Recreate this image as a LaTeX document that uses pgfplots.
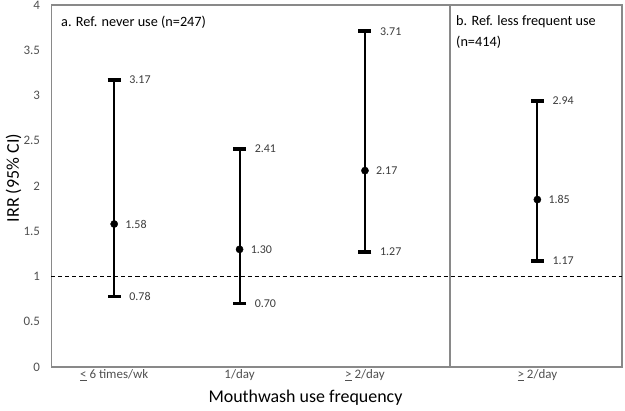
\documentclass[border=0pt]{standalone}
\usepackage{pgfplots}
\pgfplotsset{compat=1.18}
\usepackage{fontspec}
\setmainfont{Carlito}
\definecolor{axgray}{RGB}{137,137,137}
\definecolor{tickgray}{RGB}{80,80,80}
\definecolor{labgray}{RGB}{60,60,60}
\begin{document}
\begin{tikzpicture}
\useasboundingbox (-51.5bp,-44bp) rectangle (573.5bp,367bp);
\begin{axis}[
  at={(0,0)}, anchor=south west,
  scale only axis, width=570.5bp, height=362bp,
  xmin=-0.5, xmax=4.05, ymin=0, ymax=4,
  ytick={0,0.5,1,1.5,2,2.5,3,3.5,4},
  yticklabel={\pgfmathprintnumber[assume math mode=true]{\tick}},
  xtick={0,1,2,3.375},
  xticklabels={{\underline{<} 6 times/wk},{1/day},{\underline{>} 2/day},{\underline{>} 2/day}},
  major tick length=0pt,
  axis line style={axgray, line width=1.3bp},
  ticklabel style={font=\fontsize{13}{15}\selectfont, text=tickgray},
  yticklabel style={xshift=-8bp},
  xticklabel style={yshift=1bp},
  xlabel={Mouthwash use frequency},
  ylabel={IRR (95\% CI)},
  xlabel style={at={(axis description cs:0.4452,-0.0856)}, anchor=center, font=\fontsize{18}{20}\selectfont},
  ylabel style={at={(axis description cs:-0.0666,0.522)}, anchor=center, font=\fontsize{18}{20}\selectfont},
  clip=false,
]
% reference line at IRR = 1
\addplot[black, line width=1bp, dash pattern=on 4bp off 3bp] coordinates {(-0.5,1) (4.05,1)};
% panel separator
\addplot[axgray, line width=1.1bp] coordinates {(2.678,0) (2.678,4)};
% estimates with 95% CI
\addplot[only marks, mark=*, mark size=3.6bp, black,
  error bars/.cd, y dir=both, y explicit,
  error mark=|,
  error bar style={line width=1.9bp, black},
  error mark options={line width=3.6bp, mark size=6.5bp, black}]
  coordinates {
    (0,1.58) += (0,1.59) -= (0,0.80)
    (1,1.30) += (0,1.11) -= (0,0.60)
    (2,2.17) += (0,1.54) -= (0,0.90)
    (3.375,1.85) += (0,1.09) -= (0,0.68)
  };
% CI bound labels
\addplot[draw=none, mark=none, nodes near coords, point meta=explicit symbolic,
  nodes near coords style={anchor=west, inner sep=0pt, xshift=15bp, font=\fontsize{12}{14}\selectfont, text=labgray}]
  coordinates {
    (0,3.17) [3.17] (0,0.78) [0.78]
    (1,2.41) [2.41] (1,0.70) [0.70]
    (2,3.71) [3.71] (2,1.27) [1.27]
    (3.375,2.94) [2.94] (3.375,1.17) [1.17]
  };
% estimate labels
\addplot[draw=none, mark=none, nodes near coords, point meta=explicit symbolic,
  nodes near coords style={anchor=west, inner sep=0pt, xshift=11bp, font=\fontsize{12}{14}\selectfont, text=labgray}]
  coordinates {
    (0,1.58) [1.58] (1,1.30) [1.30] (2,2.17) [2.17] (3.375,1.85) [1.85]
  };
\node[anchor=west, inner sep=0pt, font=\fontsize{14.3}{16}\selectfont] at (axis cs:-0.424,3.812) {a. Ref. never use (n=247)};
\node[anchor=west, inner sep=0pt, font=\fontsize{14.3}{16}\selectfont] at (axis cs:2.726,3.812) {b. Ref. less frequent use};
\node[anchor=west, inner sep=0pt, font=\fontsize{14.3}{16}\selectfont] at (axis cs:2.726,3.586) {(n=414)};
\end{axis}
\end{tikzpicture}
\end{document}
